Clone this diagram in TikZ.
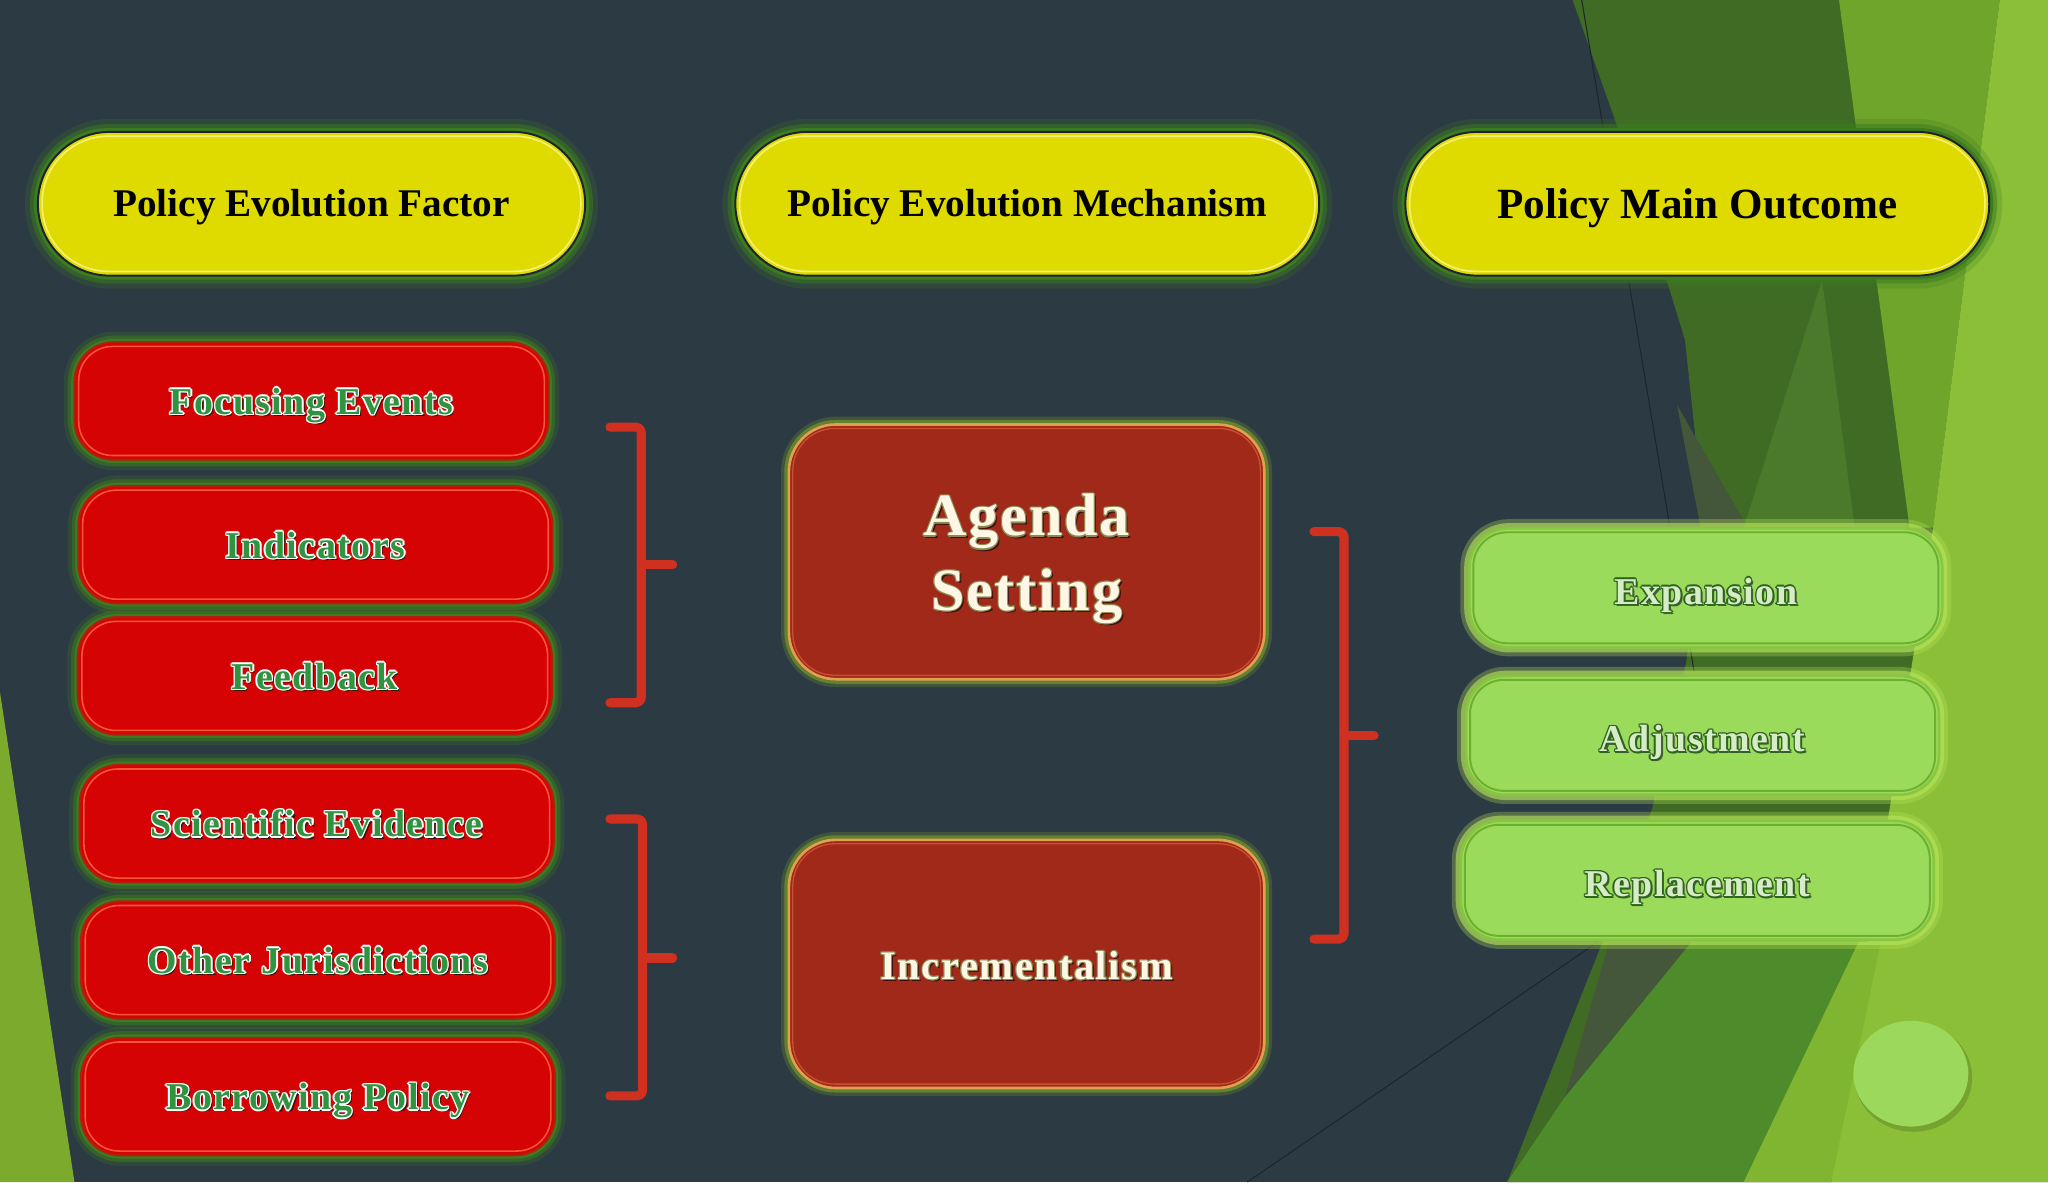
\documentclass[tikz,border=0pt]{standalone}
\usepackage{fontspec}
\setmainfont{Liberation Serif}
\newfontfamily\spfont{Liberation Serif}[LetterSpace=4.0]
\newfontfamily\spfontB{Liberation Serif}[LetterSpace=3.0]

\definecolor{bgslate}{HTML}{2C3A44}
\definecolor{gdark}{HTML}{3F6B25}
\definecolor{gmidtop}{HTML}{70A52B}
\definecolor{glight}{HTML}{8BBF38}
\definecolor{gbottom}{HTML}{4E8B2A}
\definecolor{gstrip}{HTML}{7FB531}
\definecolor{golive}{HTML}{44573A}
\definecolor{gtri}{HTML}{4A7A2A}
\definecolor{leftgreen}{HTML}{7CAA2C}
\definecolor{yellowfill}{HTML}{DFDB00}
\definecolor{pilledge}{HTML}{1C2238}
\definecolor{redfill}{HTML}{D50303}
\definecolor{rededge}{HTML}{B02010}
\definecolor{midred}{HTML}{A0291A}
\definecolor{midedge}{HTML}{E0A050}
\definecolor{greenbox}{HTML}{9BDB5B}
\definecolor{gredge}{HTML}{86C640}
\definecolor{glowdk}{HTML}{3C7C1E}
\definecolor{glowmid}{HTML}{7CA028}
\definecolor{glowlt}{HTML}{B8E65A}
\definecolor{brkred}{HTML}{CF3020}
\definecolor{txtgreen}{HTML}{2F9340}
\definecolor{cream}{HTML}{FFF6E6}
\definecolor{outlM}{HTML}{8A8A50}
\definecolor{outlG}{HTML}{2F6420}
\definecolor{paleG}{HTML}{D5ECC5}
\definecolor{shadowdk}{HTML}{3A1010}
\definecolor{shadowG}{HTML}{4A5A40}
\definecolor{ringY}{HTML}{F3EF70}
\definecolor{ringR}{HTML}{FF6A4A}
\definecolor{ringM}{HTML}{C85030}
\definecolor{ringG}{HTML}{6FAF30}
\definecolor{thinline}{HTML}{1C262C}
\definecolor{circfill}{HTML}{9BD85B}

\newdimen\embd
\newcommand{\emb}[5]{% #1 offset, #2 fill, #3 outline, #4 shadow, #5 text
\leavevmode\embd=#1\relax
\rlap{\kern1.6pt\raisebox{-1.6pt}{\textcolor{#4}{#5}}}%
\rlap{\kern-\embd\textcolor{#3}{#5}}%
\rlap{\kern\embd\textcolor{#3}{#5}}%
\rlap{\raisebox{\embd}{\textcolor{#3}{#5}}}%
\rlap{\raisebox{-\embd}{\textcolor{#3}{#5}}}%
\rlap{\kern-0.7\embd\raisebox{0.7\embd}{\textcolor{#3}{#5}}}%
\rlap{\kern0.7\embd\raisebox{0.7\embd}{\textcolor{#3}{#5}}}%
\rlap{\kern-0.7\embd\raisebox{-0.7\embd}{\textcolor{#3}{#5}}}%
\rlap{\kern0.7\embd\raisebox{-0.7\embd}{\textcolor{#3}{#5}}}%
\textcolor{#2}{#5}}

\begin{document}
\begin{tikzpicture}[x=1pt,y=-1pt,
  ypill/.style={fill=yellowfill, draw=pilledge, line width=1.5pt, rounded corners=55pt,
    minimum width=#1, minimum height=110pt, inner sep=0pt, text height=20pt, text depth=0pt,
    preaction={draw=glowdk, line width=20pt, draw opacity=.22},
    preaction={draw=glowdk, line width=12pt, draw opacity=.5},
    preaction={draw=glowdk, line width=6pt},
    font=\bfseries\fontsize{30}{36}\selectfont, text=black},
  redbox/.style={fill=redfill, draw=rededge, line width=1.5pt, rounded corners=30pt,
    minimum width=363pt, minimum height=90pt, inner sep=0pt, text height=20.5pt, text depth=0pt,
    preaction={draw=glowdk, line width=16pt, draw opacity=.25},
    preaction={draw=glowdk, line width=10pt, draw opacity=.5},
    preaction={draw=glowdk, line width=5pt},
    font=\spfont\bfseries\fontsize{29}{34}\selectfont},
  midbox/.style={fill=midred, draw=midedge, line width=2pt, rounded corners=36pt,
    minimum width=364pt, inner sep=0pt, align=center, text depth=0pt,
    preaction={draw=glowmid, line width=12pt, draw opacity=.25},
    preaction={draw=glowmid, line width=7pt, draw opacity=.6}},
  grbox/.style={fill=greenbox, draw=gredge, line width=2pt, rounded corners=30pt,
    minimum width=362pt, minimum height=91pt, inner sep=0pt, text height=25pt, text depth=0pt,
    preaction={draw=glowlt, line width=14pt, draw opacity=.3},
    preaction={draw=glowlt, line width=8pt, draw opacity=.6},
    font=\spfont\bfseries\fontsize{29}{34}\selectfont},
  brk/.style={draw=brkred, line width=7pt, line cap=round, line join=round, rounded corners=4pt},
  ringYs/.style={draw=ringY, line width=1.3pt},
  ringRs/.style={draw=ringR, line width=1.2pt, draw opacity=.8},
  ringMs/.style={draw=ringM, line width=1pt},
  ringGs/.style={draw=ringG, line width=1.5pt}
]
\useasboundingbox (0,0) rectangle (1568,905);
% background
\fill[bgslate] (0,0) rectangle (1568,905);
\fill[gdark] (1204,0) -- (1568,0) -- (1568,905) -- (1154,905) -- (1227,721) -- (1265,619)
  -- (1291,507) -- (1305,400) -- (1290,260) -- (1250,130) -- cycle;
\fill[golive] (1284,310) -- (1338,404) -- (1302,404) -- cycle;
\fill[gtri] (1395,214) -- (1420,404) -- (1335,404) -- cycle;
\fill[gmidtop] (1408,0) -- (1531,0) -- (1480,404) -- (1462,404) -- cycle;
\fill[gbottom] (1154,905) -- (1198,840) -- (1295,721) -- (1440,721) -- (1402,905) -- cycle;
\fill[golive] (1198,840) -- (1232,721) -- (1295,721) -- cycle;
\fill[glight] (1531,0) -- (1568,0) -- (1568,905) -- (1402,905) -- (1431,721) -- (1480,404) -- cycle;
\fill[gstrip] (1335,905) -- (1423,721) -- (1440,721) -- (1402,905) -- cycle;
\fill[leftgreen] (0,530) -- (57,905) -- (0,905) -- cycle;
\draw[thinline, line width=0.8pt] (1211,0) -- (1297,514);
\draw[thinline, line width=0.8pt] (955,905) -- (1225,720);

% header pills
\node[ypill=419pt] (y1) at (238.5,156) {Policy Evolution Factor};
\node[ypill=447pt] (y2) at (786.5,156) {Policy Evolution Mechanism};
\node[ypill=447pt, font=\bfseries\fontsize{33}{38}\selectfont, text height=22pt] (y3) at (1299.5,156) {Policy Main Outcome};

% factor boxes
\node[redbox] (r1) at (238.5,307) {\emb{1.1pt}{txtgreen}{white}{shadowdk}{Focusing Events}};
\node[redbox] (r2) at (241.5,417) {\emb{1.1pt}{txtgreen}{white}{shadowdk}{Indicators}};
\node[redbox] (r3) at (241,517.5) {\emb{1.1pt}{txtgreen}{white}{shadowdk}{Feedback}};
\node[redbox] (r4) at (242.5,630.5) {\emb{1.1pt}{txtgreen}{white}{shadowdk}{Scientific Evidence}};
\node[redbox] (r5) at (243.5,735) {\emb{1.1pt}{txtgreen}{white}{shadowdk}{Other Jurisdictions}};
\node[redbox] (r6) at (243.5,839.5) {\emb{1.1pt}{txtgreen}{white}{shadowdk}{Borrowing Policy}};

% mechanism boxes
\node[midbox, minimum height=195pt, font=\spfontB\bfseries\fontsize{46}{57}\selectfont] (m1) at (786,422.5)
  {\emb{0.8pt}{cream}{outlM}{shadowdk}{Agenda}\\\emb{0.8pt}{cream}{outlM}{shadowdk}{Setting}};
\node[midbox, minimum height=190pt, text height=24pt, font=\spfont\bfseries\fontsize{31}{36}\selectfont] (m2) at (786,738)
  {\emb{0.8pt}{cream}{outlM}{shadowdk}{Incrementalism}};

% outcome boxes
\node[grbox] (g1) at (1306,450) {\emb{1.1pt}{paleG}{outlG}{shadowG}{Expansion}};
\node[grbox] (g2) at (1303.5,563) {\emb{1.1pt}{paleG}{outlG}{shadowG}{Adjustment}};
\node[grbox] (g3) at (1299.5,674) {\emb{1.1pt}{paleG}{outlG}{shadowG}{Replacement}};

% inner bevel rings
\foreach \n/\r/\s in {y1/51/ringYs, y2/51/ringYs, y3/51/ringYs,
  r1/26/ringRs, r2/26/ringRs, r3/26/ringRs, r4/26/ringRs, r5/26/ringRs, r6/26/ringRs,
  m1/32/ringMs, m2/32/ringMs, g1/26/ringGs, g2/26/ringGs, g3/26/ringGs}
  \draw[\s] ([shift={(4pt,-4pt)}]\n.north west) [rounded corners=\r pt] rectangle ([shift={(-4pt,4pt)}]\n.south east);

% brackets
\draw[brk] (467,327) -- (491,327) -- (491,538) -- (467,538);
\draw[brk] (491,432.5) -- (515,432.5);
\draw[brk] (467,627) -- (492,627) -- (492,839) -- (467,839);
\draw[brk] (492,733.5) -- (515,733.5);
\draw[brk] (1006,407) -- (1029,407) -- (1029,719) -- (1006,719);
\draw[brk] (1029,563) -- (1052,563);

% decorative circle
\fill[black, opacity=.15] (1465,825) ellipse [x radius=45, y radius=41.5];
\fill[circfill] (1463,822) ellipse [x radius=44, y radius=40.5];
\end{tikzpicture}
\end{document}
